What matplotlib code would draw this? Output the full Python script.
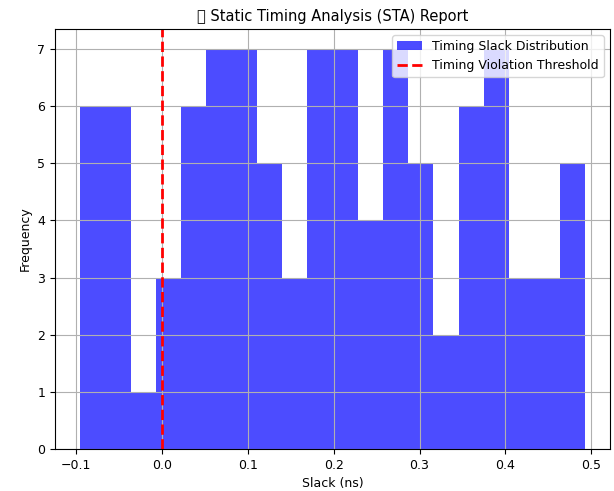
import numpy as np
import matplotlib
matplotlib.use('Agg')
import matplotlib.pyplot as plt

# histogram: 20 bins between slack_min and slack_max
slack_min = -0.0953
slack_max = 0.4925
bin_counts = [6, 6, 1, 3, 6, 7, 7, 5, 3, 7, 7, 4, 7, 5, 2, 6, 7, 3, 3, 5]
threshold = 0.0

plt.rcParams['font.size'] = 9

edges = np.linspace(slack_min, slack_max, len(bin_counts) + 1)
centers = (edges[:-1] + edges[1:]) / 2

fig = plt.figure(figsize=(6.14, 4.91), dpi=100)
ax = fig.add_subplot(1, 1, 1)
fig.subplots_adjust(left=0.0896, right=0.9935, top=0.941, bottom=0.0855)

ax.hist(centers, bins=edges, weights=bin_counts, color='blue', alpha=0.7,
        label='Timing Slack Distribution')
ax.axvline(threshold, color='red', linestyle='--', linewidth=2,
           label='Timing Violation Threshold')

# the emoji shows as an empty box in the reference too
ax.set_title('\U0001F4CA Static Timing Analysis (STA) Report', fontsize=10.5)
ax.set_xlabel('Slack (ns)')
ax.set_ylabel('Frequency')
ax.legend(loc='upper right')
ax.grid(True)

fig.savefig('out.png', dpi=100)
